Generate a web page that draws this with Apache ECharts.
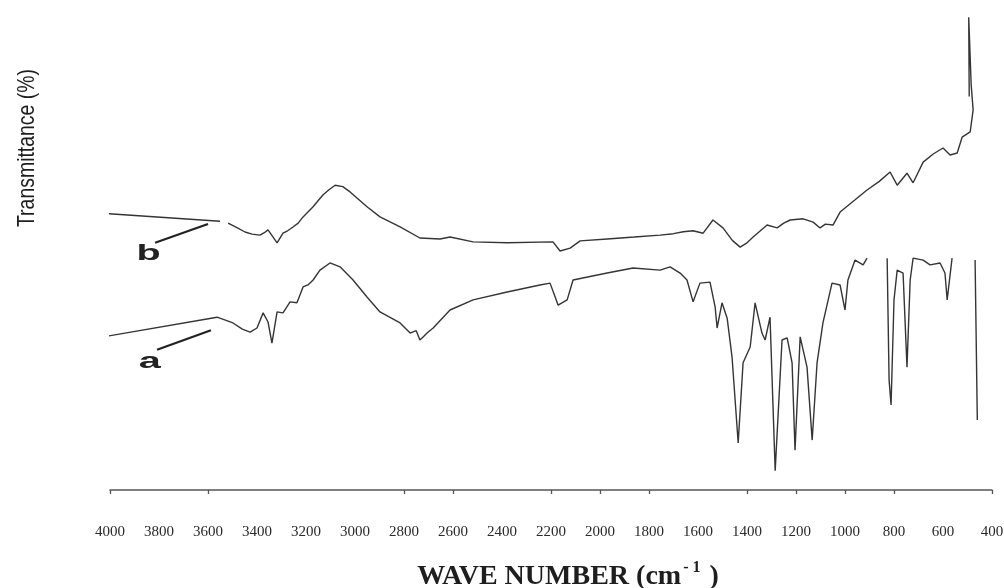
<!DOCTYPE html>
<html><head><meta charset="utf-8">
<script src="https://cdn.jsdelivr.net/npm/echarts@6/dist/echarts.min.js"></script>
<style>html,body{margin:0;background:#fff}#c{width:1004px;height:588px}</style>
</head><body><div id="c"></div>
<script>
// Curve b (upper spectrum): wavenumber (cm-1) and transmittance (arbitrary %)
const wnB = [4110, 3551, 3535, 3518, 3480, 3449, 3420, 3388, 3370, 3355, 3318, 3294, 3275, 3253, 3232, 3212, 3190, 3171, 3150, 3130, 3105, 3081, 3050, 3020, 2951, 2898, 2816, 2735, 2653, 2612, 2518, 2379, 2192, 2163, 2122, 2081, 1971, 1860, 1755, 1700, 1660, 1620, 1579, 1539, 1498, 1460, 1428, 1400, 1375, 1318, 1277, 1250, 1224, 1171, 1130, 1102, 1080, 1049, 1020, 960, 910, 860, 816, 787, 747, 722, 681, 640, 600, 571, 542, 522, 489, 477, 485, 495, 493];
const tB = [57.9, 56.0, null, 55.6, 54.6, 53.75, 53.3, 53.1, 53.6, 54.2, 51.5, 53.5, 54.0, 54.8, 55.6, 56.9, 58.0, 59.0, 60.3, 61.5, 62.6, 63.5, 63.2, 62.1, 59.0, 56.9, 54.8, 52.5, 52.3, 52.7, 51.7, 51.5, 51.7, 49.8, 50.4, 51.9, 52.3, 52.7, 53.1, 53.4, 53.8, 54.0, 53.5, 56.25, 54.6, 52.0, 50.6, 51.5, 52.7, 55.2, 54.6, 55.6, 56.25, 56.5, 55.8, 54.6, 55.4, 55.2, 57.9, 60.4, 62.5, 64.3, 66.25, 63.5, 66.0, 64.0, 68.3, 70.0, 71.25, 69.8, 70.2, 73.5, 74.6, 79.2, 84.4, 98.5, 82];

// Curve a (lower spectrum)
const wnA = [4131, 3563, 3498, 3460, 3428, 3400, 3375, 3355, 3339, 3318, 3294, 3265, 3237, 3212, 3190, 3171, 3143, 3102, 3061, 3008, 2951, 2898, 2816, 2775, 2750, 2735, 2720, 2706, 2681, 2612, 2518, 2379, 2245, 2204, 2183, 2171, 2134, 2110, 1971, 1865, 1755, 1714, 1673, 1645, 1620, 1592, 1551, 1530, 1522, 1502, 1481, 1461, 1436, 1416, 1387, 1367, 1339, 1326, 1306, 1285, 1257, 1236, 1216, 1204, 1183, 1155, 1134, 1114, 1090, 1053, 1020, 1000, 988, 959, 926, 910, 895, 828, 820, 812, 800, 787, 763, 747, 734, 722, 681, 653, 612, 592, 583, 563, 520, 469, 460];
const tA = [31.0, 36.0, 34.8, 33.5, 32.9, 33.75, 36.9, 35.0, 30.6, 37.1, 36.9, 39.2, 39.0, 42.3, 42.8, 43.75, 45.8, 47.3, 46.5, 43.75, 40.2, 37.1, 34.8, 32.7, 33.2, 31.25, 32.0, 32.7, 33.75, 37.5, 39.6, 41.25, 42.7, 43.1, 40.2, 38.5, 39.6, 43.75, 45.2, 46.25, 45.8, 46.5, 45.2, 43.75, 39.2, 43.1, 43.3, 38.1, 33.75, 39.0, 35.8, 27.7, 9.8, 26.5, 29.8, 39.0, 32.7, 31.25, 36.0, 4.0, 31.25, 31.7, 26.5, 8.3, 31.9, 25.6, 10.4, 26.5, 34.8, 43.1, 42.7, 37.5, 43.75, 47.9, 46.9, 48.3, null, 48.3, 22.9, 17.7, 39.6, 45.8, 45.2, 25.6, 43.75, 48.3, 47.9, 46.9, 47.3, 45.2, 39.6, 48.3, null, 47.9, 14.6];

// Axis ticks / labels
const xTickMarks = [4000, 3600, 2800, 2600, 2200, 2000, 1800, 1400, 1200, 1000, 800, 400];
const xAxisTitle = 'WAVE NUMBER (cm';
const yAxisTitle = 'Transmittance (%)';

// Annotations (data coordinates)
const curveLabels = ['a', 'b'];
const labelPos = [[3838, 26.6], [3842, 49.2]];
const arrowLines = [[[3808, 29.2], [3588, 33.3]], [[3816, 51.5], [3600, 55.4]]];

const toData = (w, t) => w.map((x, i) => [x, t[i] === null ? '-' : t[i]]);

const chart = echarts.init(document.getElementById('c'), null, {renderer: 'canvas'});
const lineCol = '#353535';
chart.setOption({
  animation: false,
  backgroundColor: '#ffffff',
  grid: {left: 110, right: 12, top: 10, bottom: 98, containLabel: false, outerBoundsMode: 'none'},
  xAxis: {
    type: 'value', inverse: true, min: 400, max: 4000, interval: 200,
    splitLine: {show: false},
    axisLine: {show: true, lineStyle: {color: '#555', width: 1.5}},
    axisTick: {show: true, length: 4, customValues: xTickMarks, lineStyle: {color: '#555', width: 1.3}},
    axisLabel: {margin: 35, color: '#2a2a2a', fontFamily: 'Liberation Serif', fontSize: 15, formatter: v => String(v)},
    name: '{t|' + xAxisTitle + '}{s|- 1}{t| )}',
    nameLocation: 'middle', nameGap: 70,
    nameTextStyle: {
      padding: [0, 0, 0, 34],
      rich: {
        t: {fontFamily: 'Liberation Serif', fontWeight: 'bold', fontSize: 28, color: '#1e1e1e'},
        s: {fontFamily: 'Liberation Serif', fontWeight: 'bold', fontSize: 16, color: '#1e1e1e', padding: [0, 2, 17, 2]}
      }
    }
  },
  yAxis: {
    type: 'value', min: 0, max: 100, show: false
  },
  series: [
    {
      name: 'a', type: 'line', data: toData(wnA, tA), showSymbol: false, clip: false,
      connectNulls: false, lineStyle: {color: lineCol, width: 1.4}, itemStyle: {color: lineCol},
      markLine: {silent: true, symbol: ['none', 'none'], label: {show: false},
        lineStyle: {color: '#222', width: 2.2, type: 'solid'},
        data: [[{coord: arrowLines[0][0]}, {coord: arrowLines[0][1]}]]}
    },
    {
      name: 'b', type: 'line', data: toData(wnB, tB), showSymbol: false, clip: false,
      connectNulls: false, lineStyle: {color: lineCol, width: 1.4}, itemStyle: {color: lineCol},
      markLine: {silent: true, symbol: ['none', 'none'], label: {show: false},
        lineStyle: {color: '#222', width: 2.2, type: 'solid'},
        data: [[{coord: arrowLines[1][0]}, {coord: arrowLines[1][1]}]]}
    }
  ]
});

const gfx = curveLabels.map((lab, i) => {
  const p = chart.convertToPixel({gridIndex: 0}, labelPos[i]);
  return {type: 'text', x: p[0], y: p[1], scaleX: 1.8, scaleY: 1,
    style: {text: lab, fill: '#222', font: 'bold 22px "Liberation Sans"', textAlign: 'center', textVerticalAlign: 'middle'}};
});
gfx.push({type: 'text', x: 27, y: 148, rotation: Math.PI / 2, scaleX: 0.81, scaleY: 1,
  style: {text: yAxisTitle, fill: '#1e1e1e', font: '24px "Liberation Sans", sans-serif', textAlign: 'center', textVerticalAlign: 'middle'}});
chart.setOption({graphic: gfx});
</script></body></html>
